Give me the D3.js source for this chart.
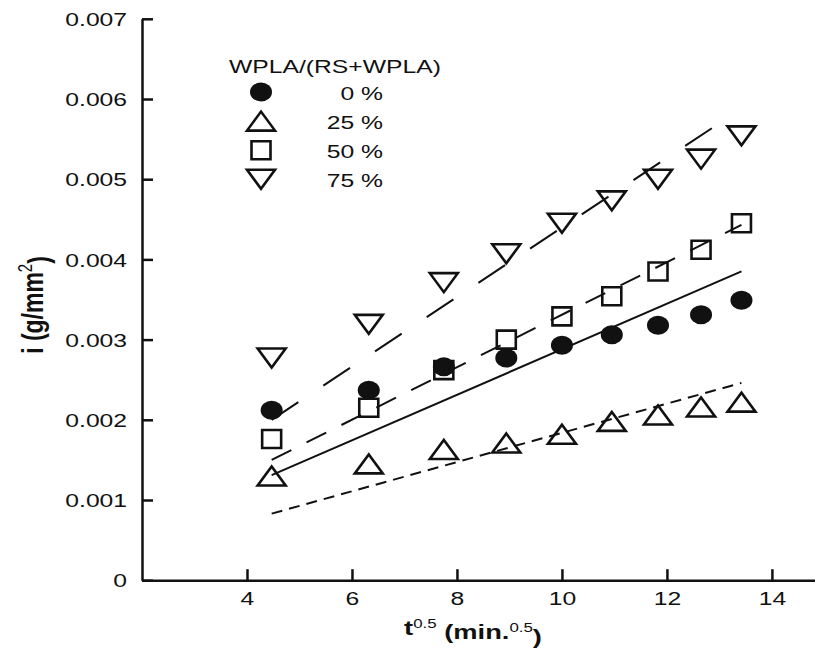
<!DOCTYPE html>
<html>
<head>
<meta charset="utf-8">
<script src="https://cdn.jsdelivr.net/npm/d3@7"></script>
<style>
  body { margin: 0; background: #fff; }
  text { font-family: "Liberation Sans", Arial, sans-serif; fill: #111; }
</style>
</head>
<body>
<div id="chart"></div>
<script>
// data (t^0.5 in min^0.5, i in g/mm2)
const tVals = [4.47, 6.32, 7.75, 8.94, 10.0, 10.95, 11.83, 12.65, 13.42];
const pct0  = [0.00212, 0.00237, 0.00266, 0.00277, 0.00293, 0.00306, 0.00318, 0.00331, 0.00349];
const pct25 = [0.00130, 0.00145, 0.00163, 0.00171, 0.00182, 0.00198, 0.00206, 0.00216, 0.00222];
const pct50 = [0.00176, 0.00215, 0.00262, 0.00300, 0.00329, 0.00354, 0.00385, 0.00412, 0.00445];
const pct75 = [0.00277, 0.00319, 0.00371, 0.00407, 0.00445, 0.00473, 0.00500, 0.00525, 0.00554];

// fitted straight lines (end points)
const fitT   = [4.47, 13.42];
const fitT75 = [4.47, 13.05];
const fit0   = [0.00131, 0.00385];
const fit25  = [0.00083, 0.00246];
const fit50  = [0.00150, 0.00443];
const fit75  = [0.00200, 0.00572];

const legendLabels = ['0 %', '25 %', '50 %', '75 %'];
const xTicks = [4, 6, 8, 10, 12, 14];
const yTicks = [0, 0.001, 0.002, 0.003, 0.004, 0.005, 0.006, 0.007];

const W = 815, H = 648;
const SX = 1.3; // the figure is stretched sideways

const xScale = d3.scaleLinear().domain([2, 14.84]).range([142, 816]);
const yScale = d3.scaleLinear().domain([0, 0.007]).range([580.2, 18.8]);

const svg = d3.select('#chart').append('svg')
  .attr('width', W)
  .attr('height', H);

svg.append('rect').attr('width', W).attr('height', H).attr('fill', '#fff');

// series setup
const series = [
  {vals: pct0,  shape: 'circle', fx: fitT,   fy: fit0,  dash: null},
  {vals: pct25, shape: 'up',     fx: fitT,   fy: fit25, dash: '11,7'},
  {vals: pct50, shape: 'square', fx: fitT,   fy: fit50, dash: '22,17'},
  {vals: pct75, shape: 'down',   fx: fitT75, fy: fit75, dash: '32,30'}
];

function markerPath(shape) {
  if (shape === 'up') return 'M-14,9.5L14,9.5L0,-9.5Z';
  if (shape === 'down') return 'M-14,-9.5L14,-9.5L0,9.5Z';
  return 'M-9.5,-9h19v18h-19Z';
}

function drawMarker(g, shape, x, y) {
  if (shape === 'circle') {
    g.append('ellipse')
      .attr('cx', x).attr('cy', y)
      .attr('rx', 11).attr('ry', 9.5)
      .attr('fill', '#111');
  } else {
    g.append('path')
      .attr('d', markerPath(shape))
      .attr('transform', `translate(${x},${y})`)
      .attr('fill', 'none')
      .attr('stroke', '#111')
      .attr('stroke-width', 2.6);
  }
}

const line = d3.line()
  .x(d => xScale(d[0]))
  .y(d => yScale(d[1]));

// fitted lines
series.forEach(s => {
  svg.append('path')
    .datum(s.fx.map((t, i) => [t, s.fy[i]]))
    .attr('d', line)
    .attr('fill', 'none')
    .attr('stroke', '#111')
    .attr('stroke-width', 2)
    .attr('stroke-dasharray', s.dash);
});

// points
series.forEach(s => {
  const g = svg.append('g');
  s.vals.forEach((v, i) => drawMarker(g, s.shape, xScale(tVals[i]), yScale(v)));
});

// axes
const yAxis = svg.append('g')
  .attr('transform', `translate(${xScale(2)},0)`)
  .call(d3.axisLeft(yScale).tickValues(yTicks).tickSizeInner(-11).tickSizeOuter(0)
    .tickFormat(d => d === 0 ? '0' : d.toFixed(3)));
yAxis.selectAll('text')
  .attr('x', -11.5)
  .attr('dy', '0.35em')
  .attr('transform', `scale(${SX},1)`)
  .style('font-size', '19px');

const xAxis = svg.append('g')
  .attr('transform', `translate(0,${yScale(0)})`)
  .call(d3.axisBottom(xScale).tickValues(xTicks).tickSizeInner(-11).tickSizeOuter(0));
xAxis.selectAll('text')
  .attr('y', 11)
  .attr('dy', '0.71em')
  .attr('transform', `scale(${SX},1)`)
  .style('font-size', '19px');

svg.selectAll('.domain, .tick line')
  .attr('stroke', '#111')
  .attr('stroke-width', 2.5);

// stretched text helper
function sText(x, y, anchor) {
  return svg.append('g')
    .attr('transform', `translate(${x},${y}) scale(${SX},1)`)
    .append('text')
    .attr('text-anchor', anchor);
}

// axis titles
const xt = sText(473, 635, 'middle')
  .style('font-size', '21px')
  .style('font-weight', 'bold');
xt.append('tspan').text('t');
xt.append('tspan').attr('dy', '-0.55em').style('font-size', '13px').style('font-weight', 'normal').text('0.5');
xt.append('tspan').attr('dy', '0.55em').text(' (min.');
xt.append('tspan').attr('dy', '-0.55em').style('font-size', '13px').style('font-weight', 'normal').text('0.5');
xt.append('tspan').attr('dy', '0.55em').text(')');

const yt = sText(43, 305, 'middle')
  .attr('transform', 'rotate(-90)')
  .style('font-size', '23px')
  .style('font-weight', 'bold');
yt.append('tspan').text('i (g/mm');
yt.append('tspan').attr('dy', '-0.55em').style('font-size', '15px').style('font-weight', 'normal').text('2');
yt.append('tspan').attr('dy', '0.55em').text(')');

// legend
sText(229, 73.3, 'start')
  .style('font-size', '19px')
  .text('WPLA/(RS+WPLA)');

const lg = svg.append('g');
series.forEach((s, i) => {
  const cy = 92 + i * 29.1;
  drawMarker(lg, s.shape, 261, cy);
  sText(383, cy + 7.5, 'end')
    .style('font-size', '19px')
    .text(legendLabels[i]);
});
</script>
</body>
</html>
